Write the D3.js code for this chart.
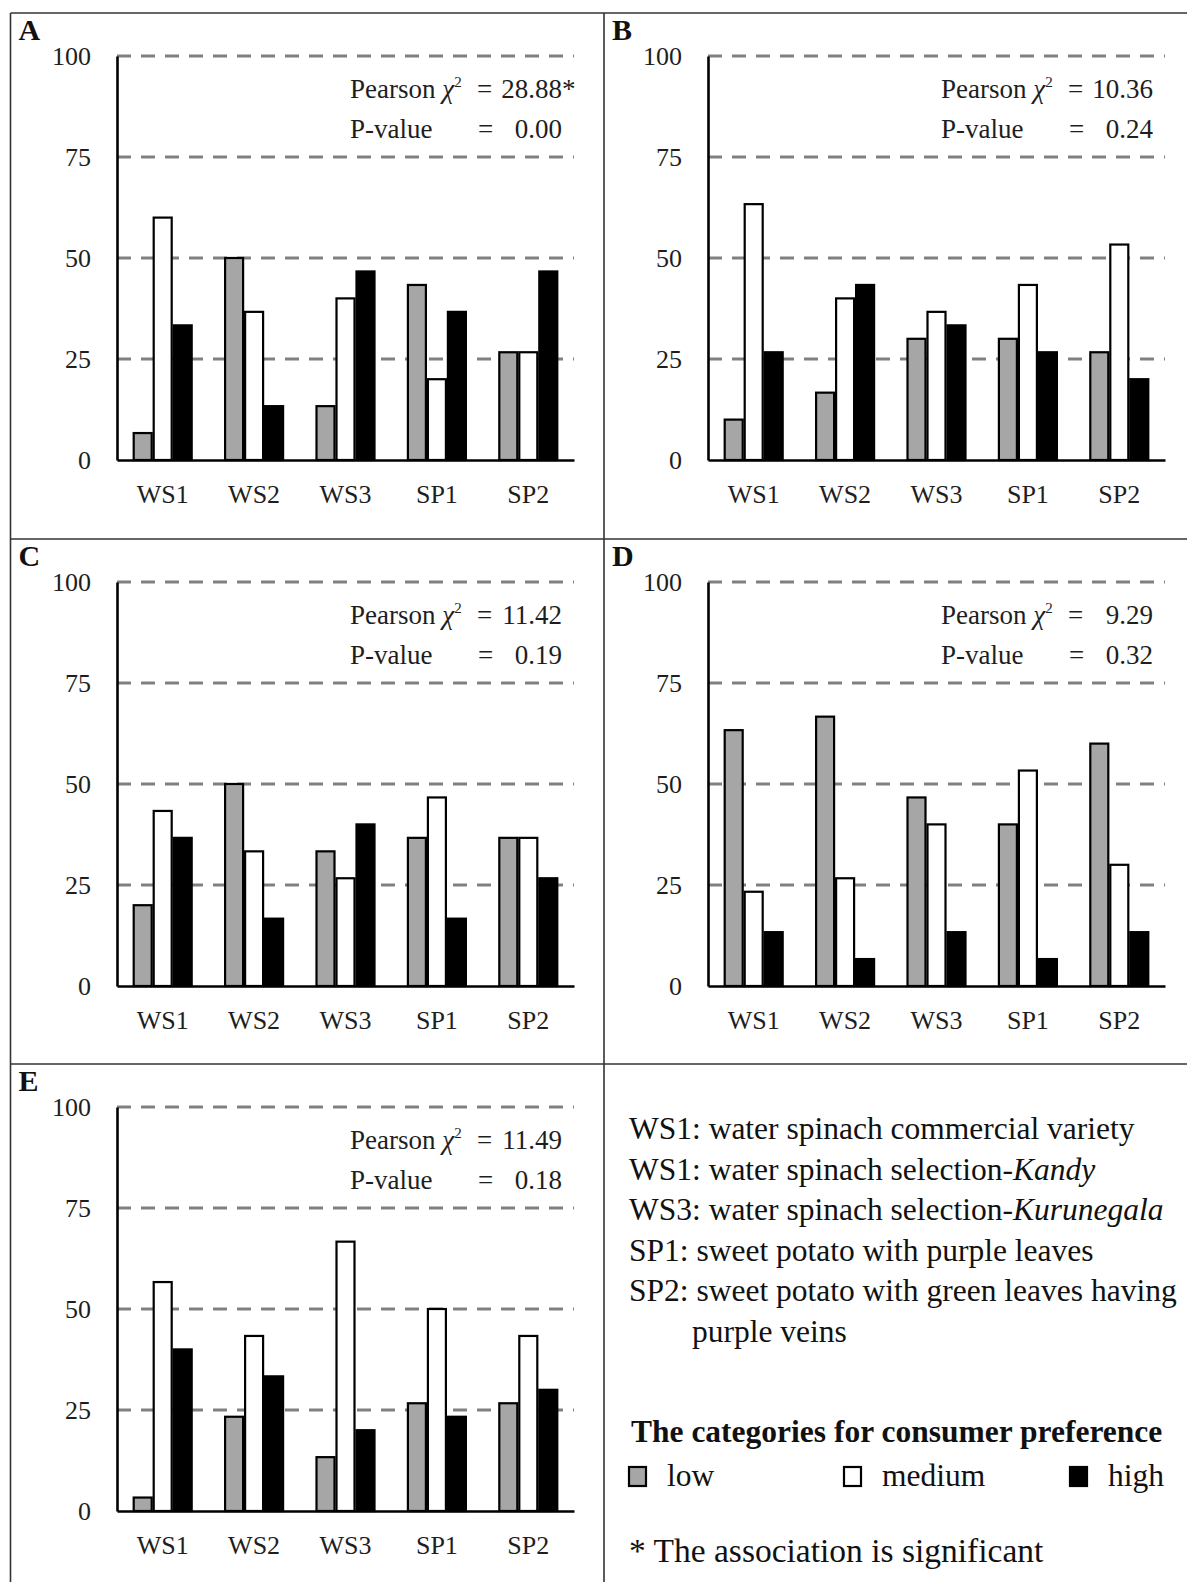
<!DOCTYPE html>
<html>
<head>
<meta charset="utf-8">
<script src="https://cdn.jsdelivr.net/npm/d3@7"></script>
<style>
	body { margin: 0; background: #fff; }
	svg { display: block; font-family: "Liberation Serif", "Times New Roman", serif; }
</style>
</head>
<body>
<script>
const categories = ["WS1", "WS2", "WS3", "SP1", "SP2"];
const levels = ["low", "medium", "high"];
const y_ticks = [0, 25, 50, 75, 100];
const panel_letters = ["A", "B", "C", "D", "E"];

// percent of consumers per category, one array per panel and level
const a_low = [6.67, 50, 13.33, 43.33, 26.67];
const a_medium = [60, 36.67, 40, 20, 26.67];
const a_high = [33.33, 13.33, 46.67, 36.67, 46.67];

const b_low = [10, 16.67, 30, 30, 26.67];
const b_medium = [63.33, 40, 36.67, 43.33, 53.33];
const b_high = [26.67, 43.33, 33.33, 26.67, 20];

const c_low = [20, 50, 33.33, 36.67, 36.67];
const c_medium = [43.33, 33.33, 26.67, 46.67, 36.67];
const c_high = [36.67, 16.67, 40, 16.67, 26.67];

const d_low = [63.33, 66.67, 46.67, 40, 60];
const d_medium = [23.33, 26.67, 40, 53.33, 30];
const d_high = [13.33, 6.67, 13.33, 6.67, 13.33];

const e_low = [3.33, 23.33, 13.33, 26.67, 26.67];
const e_medium = [56.67, 43.33, 66.67, 50, 43.33];
const e_high = [40, 33.33, 20, 23.33, 30];

const chi_values = ["28.88", "10.36", "11.42", "9.29", "11.49"];
const chi_marks = ["*", "", "", "", ""];
const p_values = ["0.00", "0.24", "0.19", "0.32", "0.18"];

const legend_codes = ["WS1:", "WS1:", "WS3:", "SP1:", "SP2:"];
const legend_names = [
	"water spinach commercial variety",
	"water spinach selection-",
	"water spinach selection-",
	"sweet potato with purple leaves",
	"sweet potato with green leaves having"
];
const legend_italics = ["", "Kandy", "Kurunegala", "", ""];
const legend_wrap = "purple veins";
const legend_title = "The categories for consumer preference";
const legend_note = "* The association is significant";

const panels = [
	[a_low, a_medium, a_high],
	[b_low, b_medium, b_high],
	[c_low, c_medium, c_high],
	[d_low, d_medium, d_high],
	[e_low, e_medium, e_high]
];

const W = 1187, H = 1582;
const col_left = [10.5, 604];
const row_top = [13, 539, 1064];
const axis_x = [117, 708];
const plot_w = 457, plot_h = 404;

const fills = d3.scaleOrdinal().domain(levels).range(["#a6a6a6", "#ffffff", "#000000"]);

const svg = d3.select("body").append("svg")
	.attr("width", W)
	.attr("height", H);

svg.append("rect")
	.attr("width", W)
	.attr("height", H)
	.attr("fill", "#fff");

// frame
const frame = svg.append("g")
	.attr("stroke", "#333")
	.attr("stroke-width", 1.6);

frame.append("line").attr("x1", col_left[0]).attr("x2", col_left[0]).attr("y1", row_top[0]).attr("y2", H);
frame.append("line").attr("x1", col_left[1]).attr("x2", col_left[1]).attr("y1", row_top[0]).attr("y2", H);
for (let r of row_top)
	frame.append("line").attr("x1", col_left[0]).attr("x2", W).attr("y1", r).attr("y2", r);

function style_axis(a) {
	a.attr("font-family", null).attr("font-size", null);
	a.select(".domain").attr("stroke", "#000").attr("stroke-width", 2.6);
	a.selectAll("text").attr("font-size", 26).attr("fill", "#1e1e1e");
};

function draw_panel(i) {
	const col = i % 2, row = Math.floor(i / 2);
	const x0 = axis_x[col];
	const top = row_top[row] + 43;

	const x = d3.scaleBand()
		.domain(categories)
		.range([x0, x0 + plot_w]);

	const y = d3.scaleLinear()
		.domain([0, 100])
		.range([top + plot_h, top]);

	const sub = d3.scaleBand()
		.domain(levels)
		.range([-29, 29])
		.paddingInner(0.1);

	const g = svg.append("g");

	g.append("text")
		.attr("x", col_left[col] + 8)
		.attr("y", row_top[row] + 27)
		.attr("font-size", 30)
		.attr("font-weight", "bold")
		.attr("fill", "#111")
		.text(panel_letters[i]);

	// dashed grid
	g.append("g")
		.selectAll("line")
		.data(y_ticks.filter(t => t > 0))
		.enter().append("line")
		.attr("x1", x0)
		.attr("x2", x0 + plot_w)
		.attr("y1", d => y(d))
		.attr("y2", d => y(d))
		.attr("stroke", "#808080")
		.attr("stroke-width", 3)
		.attr("stroke-dasharray", "14,10");

	// bars
	const rows = [];
	levels.forEach((lv, k) => categories.forEach((c, j) => rows.push({ level: lv, cat: c, v: panels[i][k][j] })));

	g.append("g")
		.selectAll("rect")
		.data(rows)
		.enter().append("rect")
		.attr("x", d => x(d.cat) + x.bandwidth() / 2 + sub(d.level))
		.attr("y", d => y(d.v))
		.attr("width", sub.bandwidth())
		.attr("height", d => y(0) - y(d.v))
		.attr("fill", d => fills(d.level))
		.attr("stroke", "#000")
		.attr("stroke-width", 2.2);

	// axes
	g.append("g")
		.attr("transform", `translate(${x0},0)`)
		.call(d3.axisLeft(y).tickValues(y_ticks).tickSize(0).tickPadding(26))
		.call(style_axis);

	g.append("g")
		.attr("transform", `translate(0,${y(0)})`)
		.call(d3.axisBottom(x).tickSize(0).tickSizeOuter(0).tickPadding(25))
		.call(style_axis);

	// chi-square box
	const sx = x0 + plot_w - 224;
	const stat = g.append("g")
		.attr("font-size", 27)
		.attr("fill", "#1e1e1e");

	const l1 = stat.append("text")
		.attr("x", sx)
		.attr("y", top + 42);
	l1.append("tspan").text("Pearson ");
	l1.append("tspan").attr("font-style", "italic").text("χ");
	l1.append("tspan").attr("font-size", 15).attr("dy", -11).text("2");

	stat.append("text").attr("x", sx + 127).attr("y", top + 42).text("=");
	stat.append("text").attr("x", sx + 212).attr("y", top + 42)
		.attr("text-anchor", "end").text(chi_values[i]);
	stat.append("text").attr("x", sx + 212).attr("y", top + 42).text(chi_marks[i]);

	stat.append("text").attr("x", sx).attr("y", top + 82).text("P-value");
	stat.append("text").attr("x", sx + 128).attr("y", top + 82).text("=");
	stat.append("text").attr("x", sx + 212).attr("y", top + 82)
		.attr("text-anchor", "end").text(p_values[i]);
};

panels.forEach((_, i) => draw_panel(i));

// legend panel
const lx = col_left[1] + 25;
const lg = svg.append("g")
	.attr("font-size", 31.5)
	.attr("fill", "#111");

legend_codes.forEach((c, i) => {
	const t = lg.append("text")
		.attr("x", lx)
		.attr("y", 1139 + i * 40.5);
	t.append("tspan").text(c + " " + legend_names[i]);
	if (legend_italics[i]) t.append("tspan").attr("font-style", "italic").text(legend_italics[i]);
});

lg.append("text")
	.attr("x", lx + 63)
	.attr("y", 1139 + 5 * 40.5)
	.text(legend_wrap);

lg.append("text")
	.attr("x", lx + 2)
	.attr("y", 1442)
	.attr("font-weight", "bold")
	.text(legend_title);

const key_x = [lx, lx + 215, lx + 441];
const key = lg.selectAll("g.key")
	.data(levels)
	.enter().append("g")
	.attr("class", "key")
	.attr("transform", (d, i) => `translate(${key_x[i]},1467)`);

key.append("rect")
	.attr("width", 17)
	.attr("height", 19)
	.attr("fill", d => fills(d))
	.attr("stroke", "#000")
	.attr("stroke-width", 2.2);

key.append("text")
	.attr("x", 38)
	.attr("y", 19)
	.text(d => d);

lg.append("text")
	.attr("x", lx)
	.attr("y", 1562)
	.attr("font-size", 33.5)
	.text(legend_note);
</script>
</body>
</html>
